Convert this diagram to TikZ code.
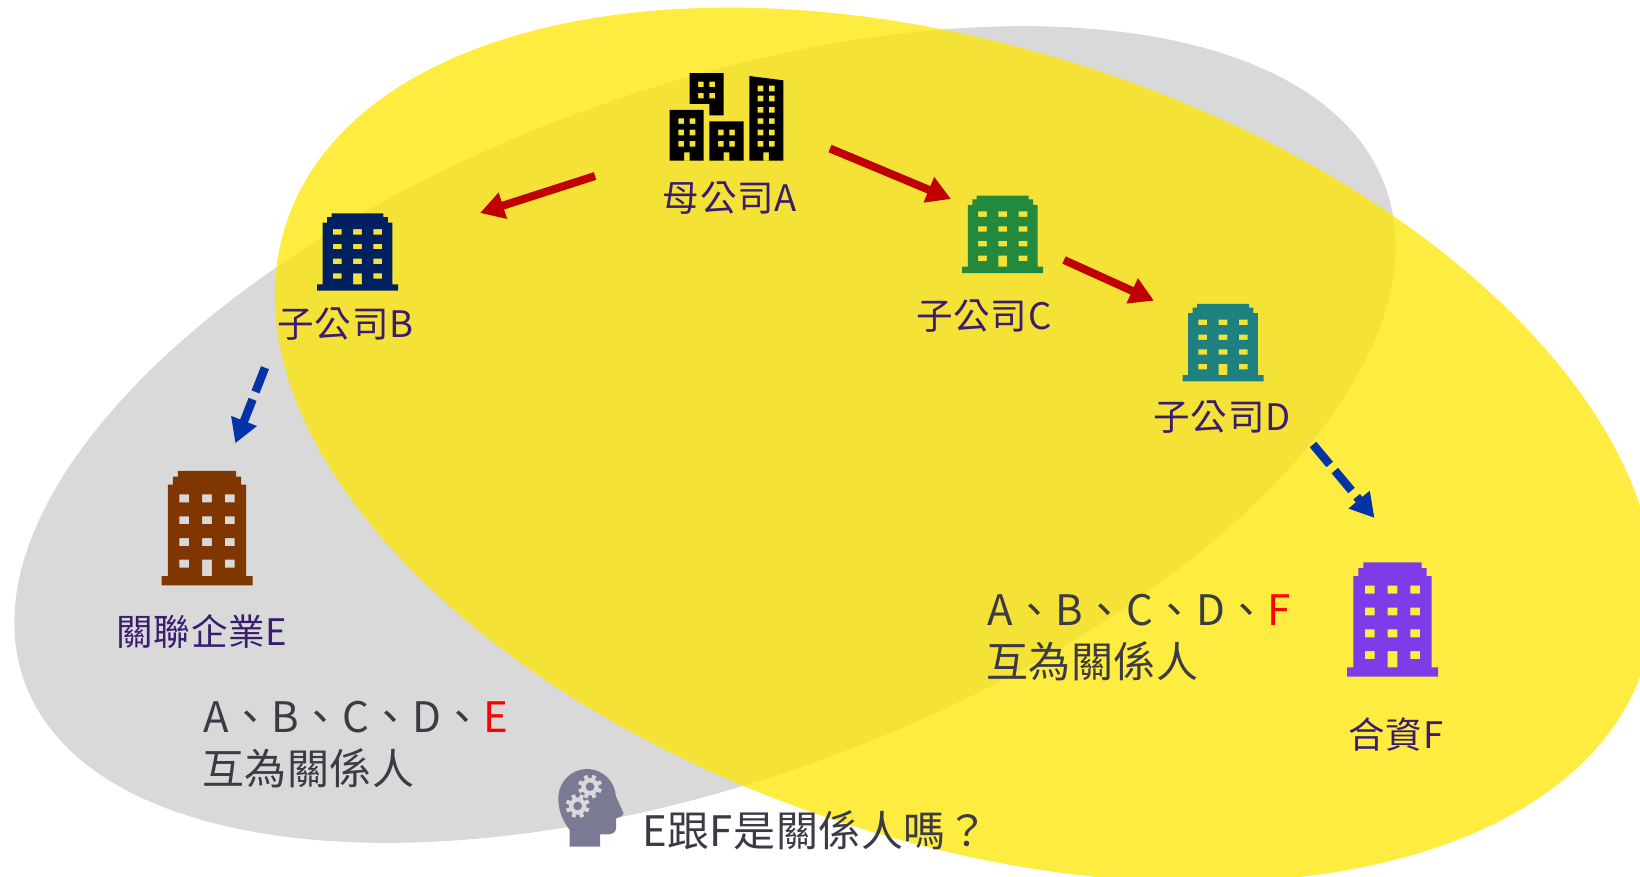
\documentclass[tikz,border=0pt]{standalone}
\usepackage{fontspec}
\setmainfont{Noto Sans CJK TC}
\newfontfamily\lsa[LetterSpace=2.2]{Noto Sans CJK TC}
\newfontfamily\lsb[LetterSpace=1.2]{Noto Sans CJK TC}
\usetikzlibrary{arrows.meta}
\definecolor{ygl}{HTML}{FFE600}
\definecolor{gel}{HTML}{D9D9D9}
\definecolor{lbl}{HTML}{3A1D6E}
\definecolor{dk}{HTML}{3B3B46}
\definecolor{redarrow}{HTML}{C00000}
\definecolor{bluearrow}{HTML}{0432A8}
\definecolor{headc}{HTML}{7A7A94}
\definecolor{navyb}{HTML}{002060}
\definecolor{greenb}{HTML}{238A3D}
\definecolor{tealb}{HTML}{1F8080}
\definecolor{brownb}{HTML}{7F3600}
\definecolor{violetb}{HTML}{7D3CE8}
\tikzset{
  lab/.style={text=lbl,font=\lsa\fontsize{36.5}{40}\selectfont,inner sep=0pt,anchor=center},
  note/.style={text=dk,font=\lsb\fontsize{42}{48}\selectfont,inner sep=0pt,anchor=west},
  red link/.style={draw=redarrow,line width=8pt,-{Triangle[length=24pt,width=26pt]}},
  blue link/.style={draw=bluearrow,line width=8.5pt,dash pattern=on 26pt off 8pt,-{Triangle[length=24pt,width=26pt]}},
}
\newcommand{\bldg}[5]{%
  \begin{scope}[shift={(#1,#2)},x=#3pt,y=#4pt]
  \fill[#5,even odd rule]
    (-45.5,0) -- (45.5,0) -- (45.5,9.3) -- (39.2,9.3) -- (39.2,100.7) -- (34.2,100.7) -- (34.2,108.7)
    -- (29.2,108.7) -- (29.2,114.4) -- (-29.2,114.4) -- (-29.2,108.7) -- (-34.2,108.7) -- (-34.2,100.7)
    -- (-39.2,100.7) -- (-39.2,9.3) -- (-45.5,9.3) -- cycle
    (-4.9,9.3) rectangle (4.9,25.7)
    (-27.6,17.7) rectangle (-17.8,25.7) (17.8,17.7) rectangle (27.6,25.7)
    (-27.6,39.3) rectangle (-17.8,47.3) (-4.9,39.3) rectangle (4.9,47.3) (17.8,39.3) rectangle (27.6,47.3)
    (-27.6,61.3) rectangle (-17.8,69) (-4.9,61.3) rectangle (4.9,69) (17.8,61.3) rectangle (27.6,69)
    (-27.6,83) rectangle (-17.8,91) (-4.9,83) rectangle (4.9,91) (17.8,83) rectangle (27.6,91);
  \end{scope}}
\newcommand{\gearicon}[2]{%
  \foreach \a in {0,45,...,315}{\draw[gel,line width=4pt] (#1,#2) ++(\a+22:20) -- ++(\a+22:16);}
  \fill[gel] (#1,#2) circle (26);
  \fill[headc] (#1,#2) circle (13);}
\begin{document}
\begin{tikzpicture}[x=1pt,y=-1pt]
\useasboundingbox (0,0) rectangle (1640,876);
\clip (0,0) rectangle (1640,876);
\fill[gel] (705,434.5) ellipse [x radius=724,y radius=345.5,rotate=20];
\fill[ygl,opacity=.75] (965,445) ellipse [x radius=714,y radius=397,rotate=-18];

% parent company block
\begin{scope}[shift={(620,50)},x=.3333pt,y=-.3333pt]
\fill[black,even odd rule]
  (149,180) rectangle (251,332) (192,307) rectangle (209,332)
  (175,205) rectangle (192,222) (209,205) rectangle (226,222)
  (175,239) rectangle (192,256) (209,239) rectangle (226,256)
  (175,273) rectangle (192,290) (209,273) rectangle (226,290)
  (209,69) -- (311,69) -- (311,196) -- (268,196) -- (268,162) -- (209,162) -- cycle
  (234,95) rectangle (251,111) (268,95) rectangle (285,111)
  (234,129) rectangle (251,145) (268,129) rectangle (285,145)
  (268,214) rectangle (371,332) (311,307) rectangle (328,332)
  (294,239) rectangle (311,256) (328,239) rectangle (345,256)
  (294,273) rectangle (311,290) (328,273) rectangle (345,290)
  (388,78) -- (490,91) -- (490,332) -- (388,332) -- cycle (430,307) rectangle (447,332)
  (413,107) rectangle (430,124) (447,107) rectangle (464,124)
  (413,137) rectangle (430,154) (447,137) rectangle (464,154)
  (413,171) rectangle (430,188) (447,171) rectangle (464,188)
  (413,205) rectangle (430,222) (447,205) rectangle (464,222)
  (413,239) rectangle (430,256) (447,239) rectangle (464,256)
  (413,273) rectangle (430,290) (447,273) rectangle (464,290);
\end{scope}

\bldg{357.5}{290.7}{.89}{.677}{navyb}
\bldg{1002.7}{273}{.89}{.677}{greenb}
\bldg{1223}{381.3}{.89}{.677}{tealb}
\bldg{207}{585.3}{1}{1}{brownb}
\bldg{1392.5}{676.7}{1}{1}{violetb}

% head
\begin{scope}[shift={(540,750)},x=.3333pt,y=-.3333pt]
\fill[headc] (89,290) -- (89,240) .. controls (70,215) and (55,185) .. (55,145)
  .. controls (55,95) and (95,57) .. (140,57) .. controls (190,57) and (225,95) .. (228,140)
  -- (250,188) .. controls (252,195) and (245,200) .. (228,205) -- (228,235)
  .. controls (228,248) and (215,253) .. (205,253) -- (180,253) -- (180,290) -- cycle;
\gearicon{150}{110}
\gearicon{113}{168}
\end{scope}

% labels
\node[lab] (lA) at (730,198) {母公司A};
\node[lab] (lB) at (345.5,324) {子公司B};
\node[lab] (lC) at (984,316) {子公司C};
\node[lab] (lD) at (1222,417.5) {子公司D};
\node[lab] (lE) at (202,632) {關聯企業E};
\node[lab] (lF) at (1396,735) {合資F};
\node[note] (n1) at (203,717) {A、B、C、D、\textcolor{red}{E}};
\node[note] (n2) at (202,768) {互為關係人};
\node[note] (n3) at (987,610) {A、B、C、D、\textcolor{red}{F}};
\node[note] (n4) at (986,661) {互為關係人};
\node[note] (q) at (642,830) {E跟F是關係人嗎？};

% connector ends
\coordinate (ab0) at (595,176);  \coordinate (ab1) at (480,213);
\coordinate (ac0) at (830,148.5);\coordinate (ac1) at (951,199);
\coordinate (cd0) at (1064,260); \coordinate (cd1) at (1154,300.7);
\coordinate (be0) at (265,367.7);\coordinate (be1) at (235.3,443.3);
\coordinate (df0) at (1313,444.5);\coordinate (df1) at (1374.5,518);
\draw[red link] (ab0) -- (ab1);
\draw[red link] (ac0) -- (ac1);
\draw[red link] (cd0) -- (cd1);
\draw[blue link] (be0) -- (be1);
\draw[blue link] (df0) -- (df1);
\end{tikzpicture}
\end{document}
